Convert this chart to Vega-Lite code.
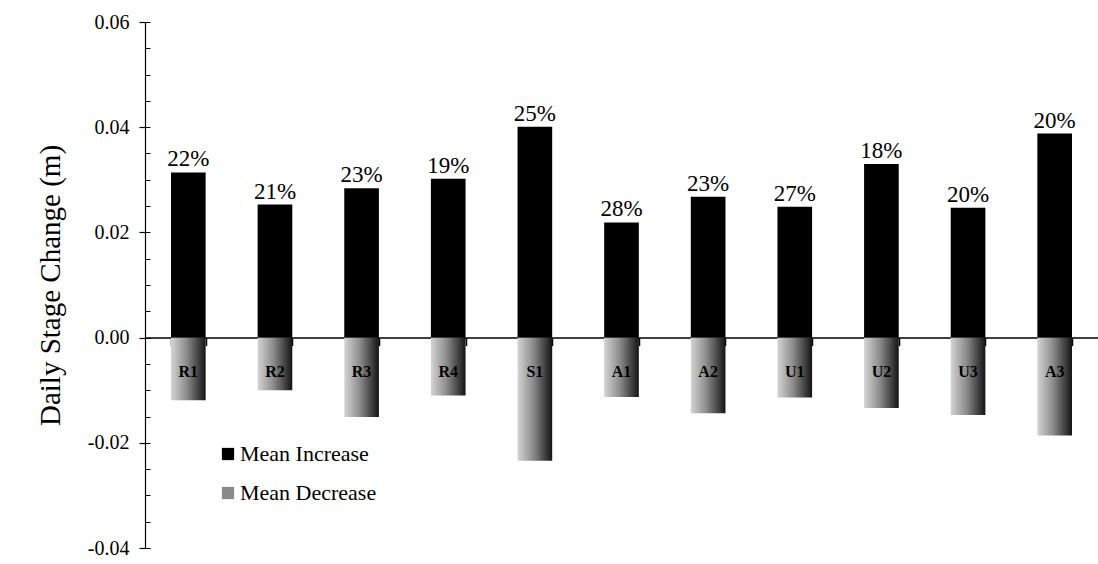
{
  "$schema": "https://vega.github.io/schema/vega-lite/v6.json",
  "autosize": {"type": "none"},
  "padding": {"left": 145, "top": 22, "right": 0, "bottom": 16},
  "width": 953,
  "height": 526,
  "background": "white",
  "config": {
    "view": {"stroke": null},
    "font": "Liberation Serif",
    "axis": {"labelFont": "Liberation Serif", "titleFont": "Liberation Serif", "domainColor": "#000", "tickColor": "#000", "labelColor": "#000", "titleColor": "#000", "grid": false},
    "legend": {"labelFont": "Liberation Serif"}
  },
  "data": {
    "values": [
      {"site": "R1", "increase": 0.0314, "decrease": -0.0119, "pct": "22%"},
      {"site": "R2", "increase": 0.0253, "decrease": -0.0100, "pct": "21%"},
      {"site": "R3", "increase": 0.0284, "decrease": -0.0151, "pct": "23%"},
      {"site": "R4", "increase": 0.0302, "decrease": -0.0110, "pct": "19%"},
      {"site": "S1", "increase": 0.0401, "decrease": -0.0234, "pct": "25%"},
      {"site": "A1", "increase": 0.0219, "decrease": -0.0113, "pct": "28%"},
      {"site": "A2", "increase": 0.0268, "decrease": -0.0144, "pct": "23%"},
      {"site": "U1", "increase": 0.0249, "decrease": -0.0114, "pct": "27%"},
      {"site": "U2", "increase": 0.0330, "decrease": -0.0134, "pct": "18%"},
      {"site": "U3", "increase": 0.0247, "decrease": -0.0147, "pct": "20%"},
      {"site": "A3", "increase": 0.0388, "decrease": -0.0186, "pct": "20%"}
    ]
  },
  "encoding": {
    "x": {
      "field": "site",
      "type": "nominal",
      "sort": null,
      "scale": {"paddingInner": 0.6, "paddingOuter": 0.3},
      "axis": {"title": null, "labels": false, "orient": "bottom", "offset": -210.4, "tickBand": "extent", "tickSize": 8, "tickWidth": 1.5, "domainWidth": 1.5}
    }
  },
  "layer": [
    {
      "mark": {"type": "bar", "fill": {"gradient": "linear", "x1": 0, "y1": 0, "x2": 1, "y2": 0, "stops": [{"offset": 0, "color": "#d4d4d4"}, {"offset": 0.45, "color": "#8c8c8c"}, {"offset": 1, "color": "#141414"}]}},
      "encoding": {
        "y": {
          "field": "decrease",
          "type": "quantitative",
          "scale": {"domain": [-0.04, 0.06], "nice": false},
          "axis": {"title": "Daily Stage Change (m)", "titleFontSize": 29, "titleFontWeight": "normal", "titlePadding": 22, "values": [-0.04, -0.02, 0, 0.02, 0.04, 0.06], "format": ".2f", "labelExpr": "replace(datum.label, '\u2212', '-')", "labelFontSize": 20, "labelPadding": 10, "tickSize": 6, "tickWidth": 1.2, "domainWidth": 1.2}
        }
      }
    },
    {
      "mark": {"type": "bar"},
      "encoding": {
        "y": {"field": "increase", "type": "quantitative", "axis": null},
        "color": {
          "datum": "Mean Increase",
          "type": "nominal",
          "scale": {"domain": ["Mean Increase", "Mean Decrease"], "range": ["#000000", "#8a8a8a"]},
          "legend": {"title": null, "orient": "none", "legendX": 72, "legendY": 421, "symbolType": "square", "symbolSize": 150, "symbolStrokeWidth": 0, "labelFont": "Liberation Serif", "labelFontSize": 22, "labelColor": "#000", "labelOffset": 1, "rowPadding": 17}
        }
      }
    },
    {
      "mark": {"type": "text", "baseline": "bottom", "dy": -1, "fontSize": 23, "font": "Liberation Serif", "color": "#000"},
      "encoding": {
        "y": {"field": "increase", "type": "quantitative", "axis": null},
        "text": {"field": "pct"}
      }
    },
    {
      "mark": {"type": "text", "baseline": "middle", "fontSize": 16, "fontWeight": "bold", "font": "Liberation Serif", "color": "#000"},
      "encoding": {
        "y": {"datum": -0.0066, "type": "quantitative", "axis": null},
        "text": {"field": "site"}
      }
    },
    {
      "mark": {"type": "tick", "opacity": 0},
      "encoding": {
        "y": {
          "field": "increase",
          "type": "quantitative",
          "axis": {"orient": "left", "title": null, "labels": false, "domain": false, "values": [-0.04, -0.035, -0.03, -0.025, -0.02, -0.015, -0.01, -0.005, 0, 0.005, 0.01, 0.015, 0.02, 0.025, 0.03, 0.035, 0.04, 0.045, 0.05, 0.055, 0.06], "tickSize": -5, "tickWidth": 1}
        }
      }
    }
  ],
  "resolve": {"axis": {"y": "independent"}}
}
